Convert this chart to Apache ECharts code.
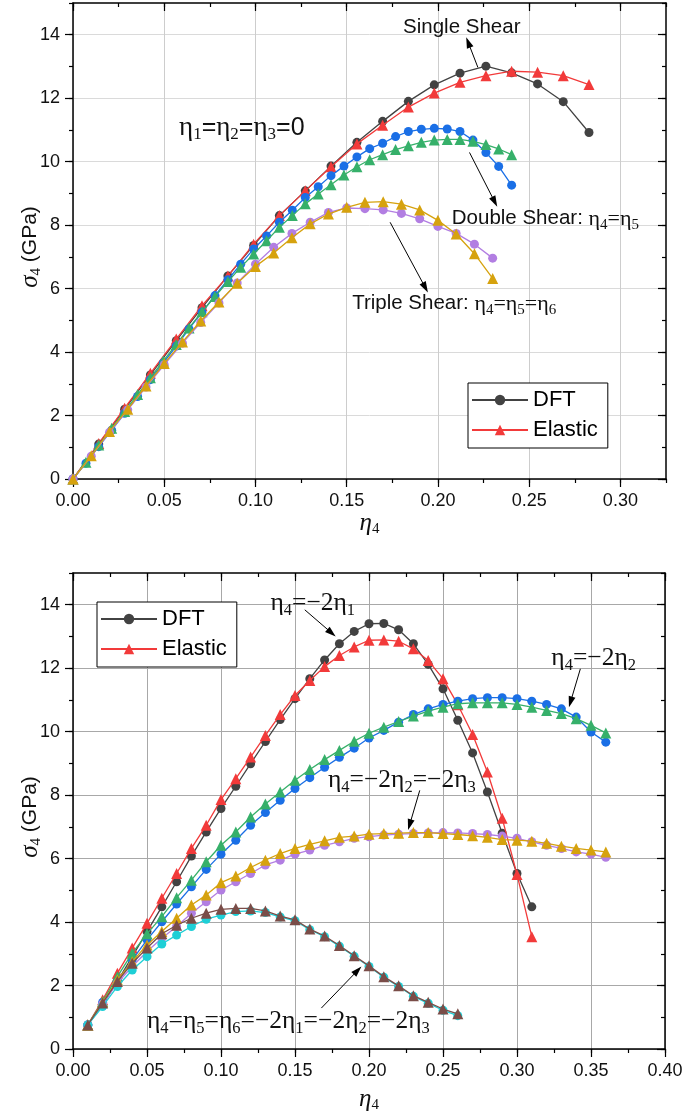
<!DOCTYPE html>
<html><head><meta charset="utf-8">
<script src="https://cdn.jsdelivr.net/npm/echarts@6/dist/echarts.min.js"></script>
<style>html,body{margin:0;padding:0;background:#fff}#c{width:685px;height:1117px}</style>
</head><body><div id="c"></div>
<script>
// ---------------- DATA ----------------
// Top panel (eta1=eta2=eta3=0)
const topSingleX = [0,0.0141,0.0283,0.0424,0.0566,0.0707,0.0849,0.0990,0.1131,0.1273,0.1414,0.1556,0.1697,0.1838,0.1980,0.2121,0.2263,0.2404,0.2546,0.2687,0.2828];
const topSingleDFT = [0,1.10,2.20,3.28,4.36,5.40,6.40,7.36,8.30,9.08,9.86,10.61,11.27,11.90,12.42,12.79,13.01,12.80,12.45,11.89,10.92];
const topSingleElastic = [0,1.12,2.23,3.33,4.41,5.46,6.40,7.40,8.30,9.08,9.84,10.56,11.15,11.72,12.16,12.50,12.71,12.85,12.82,12.71,12.43];
const topDoubleX = [0,0.0071,0.0141,0.0212,0.0283,0.0354,0.0424,0.0495,0.0566,0.0636,0.0707,0.0778,0.0849,0.0919,0.0990,0.1061,0.1131,0.1202,0.1273,0.1344,0.1414,0.1485,0.1556,0.1626,0.1697,0.1768,0.1838,0.1909,0.1980,0.2051,0.2121,0.2192,0.2263,0.2333,0.2404];
const topDoubleDFT = [0,0.50,1.02,1.54,2.07,2.60,3.13,3.66,4.19,4.73,5.26,5.78,6.28,6.77,7.25,7.66,8.09,8.47,8.87,9.21,9.56,9.86,10.15,10.41,10.58,10.79,10.95,11.02,11.05,11.03,10.95,10.68,10.29,9.85,9.26];
const topDoubleElastic = [0,0.53,1.07,1.60,2.13,2.66,3.19,3.72,4.24,4.76,5.27,5.75,6.22,6.67,7.09,7.51,7.93,8.30,8.67,8.98,9.27,9.58,9.84,10.06,10.22,10.38,10.50,10.61,10.68,10.70,10.70,10.64,10.54,10.40,10.22];
const topTripleX = [0,0.01,0.02,0.03,0.04,0.05,0.06,0.07,0.08,0.09,0.10,0.11,0.12,0.13,0.14,0.15,0.16,0.17,0.18,0.19,0.20,0.21,0.22,0.23];
const topTripleDFT = [0,0.72,1.47,2.18,2.90,3.60,4.28,4.93,5.55,6.18,6.77,7.30,7.74,8.09,8.40,8.54,8.52,8.48,8.37,8.20,7.96,7.74,7.40,6.96];
const topTripleElastic = [0,0.73,1.50,2.20,2.93,3.64,4.32,4.98,5.58,6.17,6.70,7.12,7.60,8.04,8.35,8.56,8.72,8.74,8.66,8.48,8.15,7.72,7.10,6.32];

// Bottom panel
const botXA = [0.01,0.02,0.03,0.04,0.05,0.06,0.07,0.08,0.09,0.10,0.11,0.12,0.13,0.14,0.15,0.16,0.17,0.18,0.19,0.20,0.21,0.22,0.23,0.24,0.25,0.26,0.27,0.28,0.29,0.30,0.31];
const botXB = [0.01,0.02,0.03,0.04,0.05,0.06,0.07,0.08,0.09,0.10,0.11,0.12,0.13,0.14,0.15,0.16,0.17,0.18,0.19,0.20,0.21,0.22,0.23,0.24,0.25,0.26,0.27,0.28,0.29,0.30,0.31,0.32,0.33,0.34,0.35,0.36];
const botXD = [0.01,0.02,0.03,0.04,0.05,0.06,0.07,0.08,0.09,0.10,0.11,0.12,0.13,0.14,0.15,0.16,0.17,0.18,0.19,0.20,0.21,0.22,0.23,0.24,0.25,0.26];
const botA_DFT = [0.76,1.39,2.13,2.91,3.70,4.48,5.27,6.08,6.84,7.58,8.28,8.99,9.69,10.38,11.04,11.67,12.26,12.77,13.16,13.40,13.41,13.21,12.77,12.12,11.35,10.36,9.33,8.10,6.80,5.53,4.48];
const botA_Elastic = [0.76,1.55,2.39,3.18,3.96,4.75,5.53,6.32,7.05,7.86,8.52,9.20,9.88,10.54,11.14,11.61,12.05,12.40,12.67,12.88,12.89,12.85,12.61,12.24,11.67,10.85,9.91,8.73,7.27,5.50,3.54];
const botB_DFT = [0.76,1.47,2.13,2.81,3.44,4.01,4.57,5.11,5.66,6.14,6.58,7.05,7.45,7.84,8.21,8.55,8.88,9.19,9.48,9.80,10.04,10.30,10.54,10.72,10.86,10.96,11.04,11.07,11.07,11.04,10.96,10.86,10.72,10.46,9.99,9.67];
const botB_Elastic = [0.76,1.50,2.28,3.02,3.63,4.17,4.77,5.32,5.90,6.42,6.84,7.31,7.72,8.10,8.47,8.81,9.12,9.41,9.70,9.95,10.14,10.32,10.49,10.65,10.77,10.88,10.91,10.91,10.91,10.86,10.77,10.67,10.57,10.41,10.20,9.96];
const botC_DFT = [0.76,1.42,2.08,2.60,3.07,3.49,3.86,4.28,4.64,5.01,5.27,5.53,5.80,5.95,6.14,6.27,6.42,6.53,6.64,6.69,6.74,6.77,6.79,6.81,6.82,6.81,6.79,6.76,6.71,6.64,6.53,6.42,6.32,6.21,6.14,6.04];
const botC_Elastic = [0.76,1.47,2.18,2.75,3.28,3.70,4.12,4.54,4.85,5.24,5.45,5.72,5.95,6.16,6.32,6.45,6.56,6.67,6.71,6.77,6.79,6.80,6.82,6.82,6.79,6.76,6.72,6.67,6.60,6.58,6.55,6.48,6.39,6.32,6.27,6.21];
const botD_DFT = [0.76,1.34,1.97,2.49,2.91,3.31,3.59,3.86,4.09,4.22,4.33,4.35,4.30,4.16,4.04,3.76,3.54,3.24,2.92,2.60,2.26,1.97,1.66,1.44,1.22,1.05];
const botD_Elastic = [0.76,1.45,2.13,2.70,3.18,3.63,3.90,4.12,4.28,4.40,4.43,4.43,4.35,4.19,4.07,3.78,3.56,3.26,2.94,2.62,2.28,1.99,1.68,1.47,1.26,1.11];

// Tick labels
const xTicksTop = [0,0.05,0.10,0.15,0.20,0.25,0.30];
const xTicksBot = [0,0.05,0.10,0.15,0.20,0.25,0.30,0.35,0.40];
const yTicks = [0,2,4,6,8,10,12,14];
const legendNames = ['DFT','Elastic'];

// ---------------- STYLE ----------------
const SANS = 'Liberation Sans, Arial, sans-serif';
const SERIF = 'Liberation Serif, Times New Roman, serif';
const C = {dft:'#424242', el:'#f23a3a', blue:'#1a6fe6', green:'#36b06a', purple:'#b27ee2', gold:'#d6a20e', cyan:'#1ecfd6', brown:'#7a4d48'};

const chart = echarts.init(document.getElementById('c'), null, {renderer:'canvas', width:685, height:1117});

function isMul(v, step){ const r = v/step; return Math.abs(r-Math.round(r)) < 1e-6; }

function mkX(g, max, major, minor, ticks, split){
  const base = {type:'value', gridIndex:g, min:0, max:max, axisLine:{show:false,onZero:false}, axisLabel:{show:false}, splitLine:{show:false}};
  const lineS = {show:true, onZero:false, lineStyle:{color:'#000', width:1.5}};
  const tickS = {color:'#000', width:1.2};
  return [
    Object.assign({}, base, {position:'bottom', interval:major, axisLine:lineS,
      axisTick:{show:true, length:8, lineStyle:tickS, customValues:ticks},
      axisLabel:{show:true, customValues:ticks, fontSize:18, fontFamily:SANS, color:'#111', margin:13,
        formatter:v=> isMul(v,major) ? v.toFixed(2) : ''},
      splitLine:{show:true, lineStyle:{color:split, width:1}}}),
    Object.assign({}, base, {position:'bottom', interval:minor, axisTick:{show:true, length:4, lineStyle:tickS}}),
    Object.assign({}, base, {position:'top', interval:major, axisLine:lineS, axisTick:{show:true, inside:true, length:8, lineStyle:tickS, customValues:ticks}}),
    Object.assign({}, base, {position:'top', interval:minor, axisTick:{show:true, inside:true, length:4, lineStyle:tickS}})
  ];
}
function mkY(g, max, major, minor, ticks, split){
  const base = {type:'value', gridIndex:g, min:0, max:max, axisLine:{show:false,onZero:false}, axisLabel:{show:false}, splitLine:{show:false}};
  const lineS = {show:true, onZero:false, lineStyle:{color:'#000', width:1.5}};
  const tickS = {color:'#000', width:1.2};
  return [
    Object.assign({}, base, {position:'left', interval:major, axisLine:lineS,
      axisTick:{show:true, length:8, lineStyle:tickS, customValues:ticks},
      axisLabel:{show:true, customValues:ticks, fontSize:18, fontFamily:SANS, color:'#111', margin:13,
        formatter:v=> isMul(v,major) ? String(v) : ''},
      splitLine:{show:true, lineStyle:{color:split, width:1}}}),
    Object.assign({}, base, {position:'left', interval:minor, axisTick:{show:true, length:4, lineStyle:tickS}}),
    Object.assign({}, base, {position:'right', interval:major, axisLine:lineS, axisTick:{show:true, inside:true, length:8, lineStyle:tickS, customValues:ticks}}),
    Object.assign({}, base, {position:'right', interval:minor, axisTick:{show:true, inside:true, length:4, lineStyle:tickS}})
  ];
}

function pts(xs, ys){ return xs.map((x,i)=>[x, ys[i]]); }
function ser(name, g, xs, ys, color, sym, z){
  return {type:'line', name:name, xAxisIndex:g*4, yAxisIndex:g*4, data:pts(xs,ys),
    symbol:sym, symbolSize: sym==='circle'?9:11, showSymbol:true, clip:false,
    lineStyle:{color:color, width:1.3}, itemStyle:{color:color, opacity:1},
    z:z, animation:false, silent:true, emphasis:{disabled:true}};
}

const legendBase = {orient:'vertical', itemWidth:56, itemHeight:13, itemGap:2, itemTextGap:8,
  padding:[3,10,4,3], borderColor:'#000', borderWidth:1, backgroundColor:'#fff',
  textStyle:{fontFamily:SANS, fontSize:22, color:'#000', lineHeight:28}, data:legendNames, selectedMode:false};

const option = {
  animation:false,
  backgroundColor:'#fff',
  grid:[
    {left:73, top:3, width:593, height:476, outerBoundsMode:'none', containLabel:false},
    {left:73, top:573, width:592, height:476, outerBoundsMode:'none', containLabel:false}
  ],
  xAxis: mkX(0, 0.325, 0.05, 0.025, xTicksTop, '#cdcdcd').concat(mkX(1, 0.40, 0.05, 0.025, xTicksBot, '#a8a8a8')),
  yAxis: mkY(0, 15, 2, 1, yTicks, '#dadada').concat(mkY(1, 15, 2, 1, yTicks, '#a8a8a8')),
  legend:[
    Object.assign({}, legendBase, {left:468, top:383}),
    Object.assign({}, legendBase, {left:97, top:602})
  ],
  series:[
    ser('DFT', 0, topSingleX, topSingleDFT, C.dft, 'circle', 2),
    ser('Elastic', 0, topSingleX, topSingleElastic, C.el, 'triangle', 3),
    ser('Double DFT', 0, topDoubleX, topDoubleDFT, C.blue, 'circle', 4),
    ser('Double Elastic', 0, topDoubleX, topDoubleElastic, C.green, 'triangle', 5),
    ser('Triple DFT', 0, topTripleX, topTripleDFT, C.purple, 'circle', 6),
    ser('Triple Elastic', 0, topTripleX, topTripleElastic, C.gold, 'triangle', 7),
    ser('DFT', 1, botXA, botA_DFT, C.dft, 'circle', 2),
    ser('Elastic', 1, botXA, botA_Elastic, C.el, 'triangle', 3),
    ser('B DFT', 1, botXB, botB_DFT, C.blue, 'circle', 4),
    ser('B Elastic', 1, botXB, botB_Elastic, C.green, 'triangle', 5),
    ser('C DFT', 1, botXB, botC_DFT, C.purple, 'circle', 6),
    ser('C Elastic', 1, botXB, botC_Elastic, C.gold, 'triangle', 7),
    ser('D DFT', 1, botXD, botD_DFT, C.cyan, 'circle', 8),
    ser('D Elastic', 1, botXD, botD_Elastic, C.brown, 'triangle', 9)
  ]
};
chart.setOption(option);

// ---------------- ANNOTATIONS (anchored in data coordinates) ----------------
const richTop = {
  sn:{fontFamily:SANS, fontSize:20.5, color:'#111', lineHeight:28},
  e:{fontFamily:SERIF, fontSize:22, color:'#111', lineHeight:28},
  s:{fontFamily:SERIF, fontSize:15, color:'#111', lineHeight:14, padding:[12,0,0,0]},
  E:{fontFamily:SERIF, fontSize:27, color:'#111', lineHeight:32},
  S:{fontFamily:SERIF, fontSize:17, color:'#111', lineHeight:16, padding:[14,0,0,0]},
  q:{fontFamily:SANS, fontSize:25, color:'#111', lineHeight:32}
};
const richBot = {
  e:{fontFamily:SERIF, fontSize:25.5, color:'#111', lineHeight:32},
  s:{fontFamily:SERIF, fontSize:16.5, color:'#111', lineHeight:16, padding:[14,0,0,0]}
};
const annTop = [
  {text:'{sn|Single Shear}', at:[0.1809, 14.23]},
  {text:'{E|η}{S|1}{q|=}{E|η}{S|2}{q|=}{E|η}{S|3}{q|=0}', at:[0.0581, 11.07]},
  {text:'{sn|Double Shear: }{e|η}{s|4}{e|=η}{s|5}', at:[0.2076, 8.20]},
  {text:'{sn|Triple Shear: }{e|η}{s|4}{e|=η}{s|5}{e|=η}{s|6}', at:[0.1530, 5.52]}
];
const arrowsTop = [
  {from:[0.2219,12.97], to:[0.2155,13.92]},
  {from:[0.2173,10.29], to:[0.2325,8.58]},
  {from:[0.1738,8.09], to:[0.1945,5.88]}
];
const annBot = [
  {text:'{e|η}{s|4}{e|=−2η}{s|1}', at:[0.1334, 14.03]},
  {text:'{e|η}{s|4}{e|=−2η}{s|2}', at:[0.3232, 12.30]},
  {text:'{e|η}{s|4}{e|=−2η}{s|2}{e|=−2η}{s|3}', at:[0.1723, 8.46]},
  {text:'{e|η}{s|4}{e|=η}{s|5}{e|=η}{s|6}{e|=−2η}{s|1}{e|=−2η}{s|2}{e|=−2η}{s|3}', at:[0.0500, 0.87]}
];
const arrowsBot = [
  {from:[0.1566,13.84], to:[0.1775,13.00]},
  {from:[0.3428,11.98], to:[0.3351,10.77]},
  {from:[0.2343,8.15], to:[0.2264,6.90]},
  {from:[0.1678,1.29], to:[0.1949,2.60]}
];

function P(g, v){ return chart.convertToPixel({gridIndex:g}, v); }
function textEl(p, text, rich, align, rot){
  return {type:'text', x:p[0], y:p[1], rotation:rot||0, z:100,
    style:{text:text, rich:rich, align:align||'left', verticalAlign:'middle', textAlign:align||'left', textVerticalAlign:'middle', fill:'#111'}};
}
function arrowEls(g, a){
  const p0 = P(g, a.from), p1 = P(g, a.to);
  const dx = p1[0]-p0[0], dy = p1[1]-p0[1], L = Math.hypot(dx,dy), ux = dx/L, uy = dy/L;
  const hl = 11, hw = 3.5;
  const bx = p1[0]-ux*hl, by = p1[1]-uy*hl;
  return [
    {type:'line', z:100, shape:{x1:p0[0], y1:p0[1], x2:bx+ux*3, y2:by+uy*3}, style:{stroke:'#000', lineWidth:1}},
    {type:'polygon', z:100, shape:{points:[[p1[0],p1[1]],[bx-uy*hw, by+ux*hw],[bx+uy*hw, by-ux*hw]]}, style:{fill:'#000'}}
  ];
}
const titleRich = {
  sig:{fontFamily:SERIF, fontStyle:'italic', fontSize:25, color:'#111', lineHeight:30},
  s:{fontFamily:SERIF, fontSize:15, color:'#111', lineHeight:15, padding:[13,0,0,0]},
  g:{fontFamily:SANS, fontSize:21, color:'#111', lineHeight:30},
  eta:{fontFamily:SERIF, fontStyle:'italic', fontSize:25, color:'#111', lineHeight:30}
};

const els = [];
annTop.forEach(a=>els.push(textEl(P(0,a.at), a.text, richTop)));
arrowsTop.forEach(a=>arrowEls(0,a).forEach(e=>els.push(e)));
annBot.forEach(a=>els.push(textEl(P(1,a.at), a.text, richBot)));
arrowsBot.forEach(a=>arrowEls(1,a).forEach(e=>els.push(e)));
// axis titles
[0,1].forEach(g=>{
  const xmax = g===0 ? 0.325 : 0.40;
  const pMid = P(g, [xmax/2, 7.5]);
  const pO = P(g, [0, 0]);
  els.push(textEl([pO[0]-43, pMid[1]+6], '{sig|σ}{s|4}{g| (GPa)}', titleRich, 'center', Math.PI/2));
  els.push(textEl([pMid[0], pO[1]+(g===0?44:50)], '{eta|η}{s|4}', titleRich, 'center', 0));
});
chart.setOption({graphic:{elements:els}});
</script>
</body></html>
